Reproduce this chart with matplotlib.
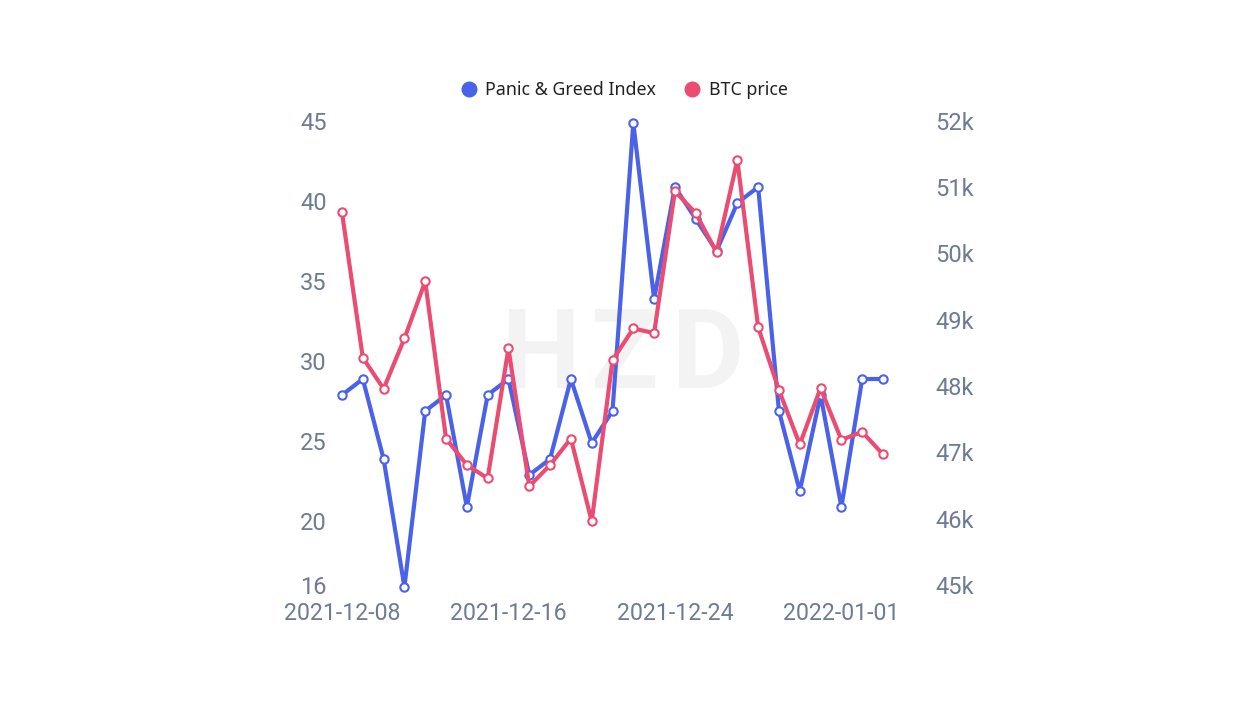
import matplotlib
matplotlib.use("Agg")
import matplotlib.pyplot as plt
from matplotlib.lines import Line2D
from matplotlib.transforms import ScaledTranslation

dates = ["2021-12-08","2021-12-09","2021-12-10","2021-12-11","2021-12-12","2021-12-13","2021-12-14","2021-12-15","2021-12-16","2021-12-17","2021-12-18","2021-12-19","2021-12-20","2021-12-21","2021-12-22","2021-12-23","2021-12-24","2021-12-25","2021-12-26","2021-12-27","2021-12-28","2021-12-29","2021-12-30","2021-12-31","2022-01-01","2022-01-02","2022-01-03"]
panic = [28,29,24,16,27,28,21,28,29,23,24,29,25,27,45,34,41,39,37,40,41,27,22,28,21,29,29]
btc = [50.65,48.46,47.99,48.75,49.61,47.24,46.84,46.64,48.60,46.52,46.84,47.24,45.99,48.42,48.90,48.83,50.97,50.64,50.05,51.44,48.92,47.97,47.15,48.00,47.22,47.34,47.00]
left_ticks = [16,20,25,30,35,40,45]
right_ticks = [45,46,47,48,49,50,51,52]
right_labels = ["45k","46k","47k","48k","49k","50k","51k","52k"]
xtick_idx = [0,8,16,24]
xtick_labels = ["2021-12-08","2021-12-16","2021-12-24","2022-01-01"]
legend_labels = ["Panic & Greed Index","BTC price"]
watermark = ["H","Z","D"]
BLUE = "#4a62e8"; RED = "#ea4c72"; GREY = "#6f7a94"

plt.rcParams['font.family'] = ['Roboto','DejaVu Sans']
W,H = 1254,704
fig = plt.figure(figsize=(W/100,H/100),dpi=100)
x0,x1,ytop,ybot = 342,883,123,587
ax = fig.add_axes([x0/W,1-ybot/H,(x1-x0)/W,(ybot-ytop)/H])
ax2 = ax.twinx()
xs = list(range(len(panic)))
for ch,cx in zip(watermark,[541,625,708]):
    fig.text(cx/W,1-358/H,ch,ha='center',va='center',fontsize=80,fontweight='bold',color='#f3f3f4',family='Roboto',zorder=-1)
ax.plot(xs,panic,color=BLUE,lw=3,marker='o',ms=6,mfc='white',mec=BLUE,mew=1.5,zorder=2,clip_on=False)
ax2.plot(xs,btc,color=RED,lw=3,marker='o',ms=6,mfc='white',mec=RED,mew=1.5,zorder=3,clip_on=False)
ax.set_xlim(0,len(xs)-1)
ax.set_ylim(16,45); ax2.set_ylim(45,52)
ax.set_yticks(left_ticks); ax2.set_yticks(right_ticks); ax2.set_yticklabels(right_labels)
ax.set_xticks(xtick_idx); ax.set_xticklabels(xtick_labels)
for a in (ax,ax2):
    for s in a.spines.values(): s.set_visible(False)
    a.tick_params(length=0,labelcolor=GREY,labelsize=17)
    a.patch.set_visible(False)
ax.tick_params(axis='y',pad=11)
ax2.tick_params(axis='y',pad=37.7)
ax.tick_params(axis='x',pad=10.6,labelsize=16.7)
up = ScaledTranslation(0,1.5/72,fig.dpi_scale_trans)
for a in (ax,ax2):
    for lab in a.get_yticklabels():
        lab.set_transform(lab.get_transform()+up)
handles=[Line2D([],[],ls='',marker='o',ms=10.5,color=BLUE),Line2D([],[],ls='',marker='o',ms=10.5,color=RED)]
fig.legend(handles,legend_labels,loc='center',bbox_to_anchor=(621/W,1-90/H),ncol=2,frameon=False,fontsize=12.8,labelcolor='#222222',handletextpad=0.15,columnspacing=1.2,handlelength=1.6)
for t in fig.legends[0].get_texts():
    t.set_family('Noto Sans'); t.set_fontsize(12.8)
fig.savefig("out.png",dpi=100,facecolor='white')
